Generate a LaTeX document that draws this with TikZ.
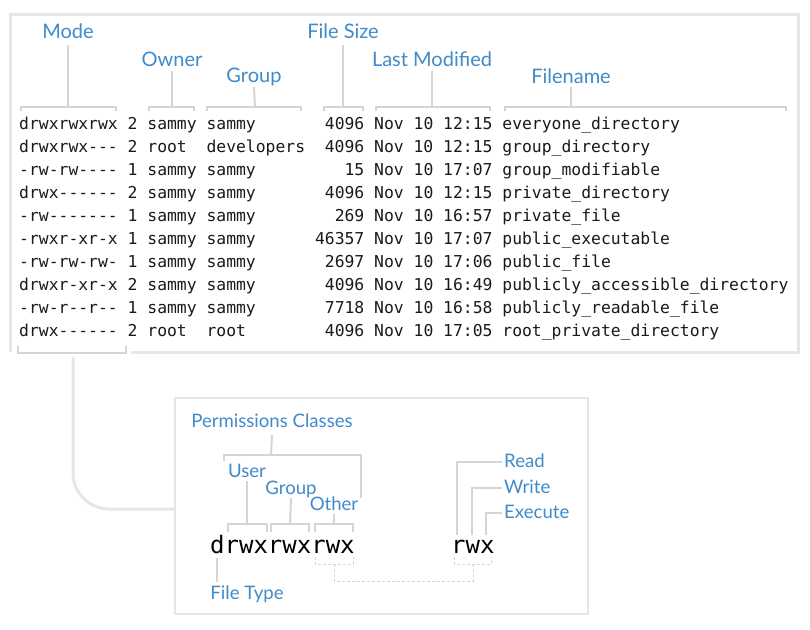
\documentclass[tikz,border=0pt]{standalone}
\usepackage{fontspec}
\setmainfont{Lato}
\setmonofont{DejaVu Sans Mono}
\definecolor{lblue}{HTML}{3F8BCB}
\definecolor{lgray}{HTML}{D5D5D5}
\definecolor{bgray}{HTML}{E4E6E8}
\definecolor{ink}{HTML}{1A1A1A}
\begin{document}
\begin{tikzpicture}[x=1pt,y=-1pt,
  toplbl/.style={text=lblue,font=\fontsize{20}{22}\selectfont,inner sep=0,anchor=base},
  lowlbl/.style={text=lblue,font=\fontsize{18.6}{20}\selectfont,inner sep=0,anchor=base},
  row/.style={text=ink,font=\frenchspacing\ttfamily\fontsize{16.38}{18}\selectfont,inner sep=0,anchor=base west},
  big/.style={text=black,font=\ttfamily\fontsize{24}{26}\selectfont,inner sep=0,anchor=base west},
  lead/.style={draw=lgray,line width=2pt},
  dash line/.style={draw=lgray,line width=1pt,dash pattern=on 3pt off 2pt},
  frame/.style={draw=bgray,line width=3pt},
]
\useasboundingbox[fill=white] (0,0) rectangle (810,629);

% outer frame
\draw[frame] (131,352) -- (798,352) -- (798,14) -- (10,14) -- (10,352);

% header labels
\node[toplbl] (mode)  at (68,38)  {Mode};
\node[toplbl] (owner) at (172,66) {Owner};
\node[toplbl] (group) at (254,82) {Group};
\node[toplbl] (fsize) at (343,38) {File Size};
\node[toplbl] (lmod)  at (432,66) {Last Modified};
\node[toplbl] (fname) at (571,83) {Filename};

% brackets above columns
\coordinate (bMode)  at (68,107);
\coordinate (bOwner) at (172,107);
\coordinate (bGroup) at (255,107);
\coordinate (bSize)  at (343,107);
\coordinate (bLast)  at (432,107);
\coordinate (bName)  at (571,107);
\draw[lead] (21,111) -- (21,107) -- (116,107) -- (116,111);
\draw[lead] (149,111) -- (149,107) -- (194,107) -- (194,111);
\draw[lead] (207,111) -- (207,107) -- (301,107) -- (301,111);
\draw[lead] (324,111) -- (324,107) -- (363,107) -- (363,111);
\draw[lead] (376,111) -- (376,107) -- (490,107) -- (490,111);
\draw[lead] (505,111) -- (505,107) -- (786,107) -- (786,111);
\draw[lead] ([yshift=-7pt]mode.base)  -- (bMode);
\draw[lead] ([yshift=-5pt]owner.base) -- (bOwner);
\draw[lead] ([yshift=-5pt]group.base) -- (bGroup);
\draw[lead] ([yshift=-7pt]fsize.base) -- (bSize);
\draw[lead] ([yshift=-5pt]lmod.base)  -- (bLast);
\draw[lead] ([yshift=-4pt]fname.base) -- (bName);

% listing
\node[row] (r1)  at (19,129) {drwxrwxrwx~2~sammy~sammy~~~~~~~4096~Nov~10~12:15~everyone\_directory};
\node[row] (r2)  at (19,152) {drwxrwx---~2~root~~developers~~4096~Nov~10~12:15~group\_directory};
\node[row] (r3)  at (19,175) {-rw-rw----~1~sammy~sammy~~~~~~~~~15~Nov~10~17:07~group\_modifiable};
\node[row] (r4)  at (19,198) {drwx------~2~sammy~sammy~~~~~~~4096~Nov~10~12:15~private\_directory};
\node[row] (r5)  at (19,221) {-rw-------~1~sammy~sammy~~~~~~~~269~Nov~10~16:57~private\_file};
\node[row] (r6)  at (19,244) {-rwxr-xr-x~1~sammy~sammy~~~~~~46357~Nov~10~17:07~public\_executable};
\node[row] (r7)  at (19,267) {-rw-rw-rw-~1~sammy~sammy~~~~~~~2697~Nov~10~17:06~public\_file};
\node[row] (r8)  at (19,290) {drwxr-xr-x~2~sammy~sammy~~~~~~~4096~Nov~10~16:49~publicly\_accessible\_directory};
\node[row] (r9)  at (19,313) {-rw-r--r--~1~sammy~sammy~~~~~~~7718~Nov~10~16:58~publicly\_readable\_file};
\node[row] (r10) at (19,336) {drwx------~2~root~~root~~~~~~~~4096~Nov~10~17:05~root\_private\_directory};

% bracket under last mode and connector
\draw[lead] (18,346) -- (18,353) -- (126,353) -- (126,346);
\coordinate (bModeLow) at (73,357);

% lower box
\node[draw=bgray,line width=2pt,minimum width=413pt,minimum height=216pt,inner sep=0,anchor=north west] (lowbox) at (174,397) {};
\draw[frame,rounded corners=36pt] (bModeLow) |- ([yshift=-3pt]lowbox.west);

\node[lowlbl] (pc)   at (272,427) {Permissions Classes};
\node[lowlbl] (user) at (247,477) {User};
\node[lowlbl] (grp)  at (291,494) {Group};
\node[lowlbl] (oth)  at (334,510) {Other};
\node[lowlbl] (ft)   at (247,599) {File Type};
\node[lowlbl,anchor=base west] (rd) at (504,467) {Read};
\node[lowlbl,anchor=base west] (wr) at (504,493) {Write};
\node[lowlbl,anchor=base west] (ex) at (504,518) {Execute};
\node[big] (perm) at (210,553) {drwxrwxrwx};
\node[big] (rwx)  at (451,553) {rwx};

% permission class lines
\coordinate (pcJ) at (271,455);
\draw[lead] ([yshift=-8pt]pc.base) -- (pcJ);
\draw[lead] (224,461) -- (224,455) -- (361,455) -- (361,498);
\coordinate (uB) at (247,524);
\coordinate (gB) at (290,524);
\coordinate (oB) at (334,524);
\draw[lead] ([yshift=-4pt]user.base) -- (uB);
\draw[lead] ([yshift=-4pt]grp.base) -- (gB);
\draw[lead] ([yshift=-4pt]oth.base) -- (oB);
\draw[lead] (228,532) -- (228,524) -- (267,524) -- (267,532);
\draw[lead] (271,532) -- (271,524) -- (309,524) -- (309,532);
\draw[lead] (315,532) -- (315,524) -- (353,524) -- (353,532);

% file type
\coordinate (ftTop) at (217,558);
\coordinate (ftBot) at (217,582);
\draw[lead] (ftTop) -- (ftBot);

% dashed link
\draw[dash line] (315,557) -- (315,564) -- (353,564) -- (353,557);
\draw[dash line] (334,564) -- (334,581) -- (473,581) -- (473,564);
\draw[dash line] (454,557) -- (454,564) -- (491,564) -- (491,557);

% read write execute
\coordinate (cr) at (457,535);
\coordinate (cw) at (472,535);
\coordinate (cx) at (486,535);
\draw[lead] (cr) |- ([xshift=-2pt,yshift=5.5pt]rd.base west);
\draw[lead] (cw) |- ([xshift=-2pt,yshift=5.5pt]wr.base west);
\draw[lead] (cx) |- ([xshift=-2pt,yshift=5.5pt]ex.base west);
\end{tikzpicture}
\end{document}
